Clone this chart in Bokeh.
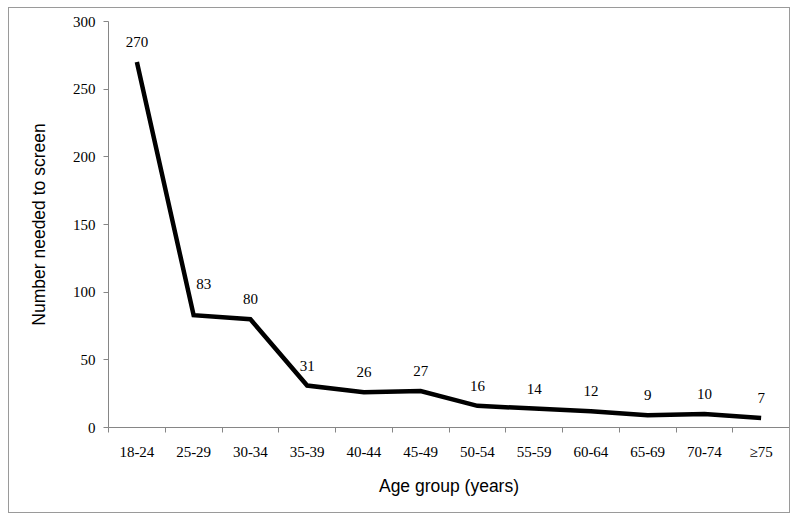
from bokeh.plotting import figure
from bokeh.models import Range1d, FixedTicker, ColumnDataSource
from bokeh.embed import file_html
from bokeh.resources import INLINE
from bokeh.core.properties import value

age_groups = ["18-24", "25-29", "30-34", "35-39", "40-44", "45-49",
              "50-54", "55-59", "60-64", "65-69", "70-74", "\u226575"]
nns = [270, 83, 80, 31, 26, 27, 16, 14, 12, 9, 10, 7]
y_ticks = [0, 50, 100, 150, 200, 250, 300]

xs = [i + 0.5 for i in range(len(age_groups))]
src = ColumnDataSource(dict(x=xs, y=nns, lab=[str(v) for v in nns]))

p = figure(width=782, height=506, output_backend="svg", toolbar_location=None,
           x_range=Range1d(0, len(age_groups)), y_range=Range1d(0, 300),
           min_border_left=99, min_border_right=2, min_border_top=13, min_border_bottom=87)
p.styles = {"border": "1px solid #9a9a9a", "margin-left": "8px", "margin-top": "7px"}
p.outline_line_color = None
p.grid.visible = False
p.background_fill_color = "white"
p.border_fill_color = "white"

p.line("x", "y", source=src, line_color="black", line_width=4.5, line_join="miter")

# data labels
main_idx = [i for i in range(len(nns)) if i != 1]
src_main = ColumnDataSource(dict(x=[xs[i] for i in main_idx], y=[nns[i] for i in main_idx],
                                 lab=[str(nns[i]) for i in main_idx]))
p.text("x", "y", text="lab", source=src_main, text_font=value("Liberation Serif"),
       text_font_size="15px", text_align="center", text_baseline="middle",
       y_offset=-20, text_color="black")
src_83 = ColumnDataSource(dict(x=[xs[1]], y=[nns[1]], lab=[str(nns[1])]))
p.text("x", "y", text="lab", source=src_83, text_font=value("Liberation Serif"),
       text_font_size="15px", text_align="center", text_baseline="middle",
       x_offset=10, y_offset=-31, text_color="black")

axis_col = "#868686"
# x axis
xa = p.xaxis[0]
xa.ticker = FixedTicker(ticks=xs, minor_ticks=list(range(len(age_groups) + 1)))
xa.major_label_overrides = {x: g for x, g in zip(xs, age_groups)}
xa.major_tick_out = 0
xa.major_tick_in = 0
xa.minor_tick_out = 5
xa.minor_tick_in = 0
xa.minor_tick_line_color = axis_col
xa.axis_line_color = axis_col
xa.major_label_text_font = "Liberation Serif"
xa.major_label_text_font_size = "15px"
xa.major_label_text_color = "black"
xa.major_label_standoff = 11
xa.axis_label = "Age group (years)"
xa.axis_label_text_font = "Liberation Sans"
xa.axis_label_text_font_size = "17.5px"
xa.axis_label_text_font_style = "normal"
xa.axis_label_text_color = "black"
xa.axis_label_standoff = 13

ya = p.yaxis[0]
ya.ticker = FixedTicker(ticks=y_ticks, minor_ticks=[])
ya.major_tick_out = 5
ya.major_tick_in = 0
ya.minor_tick_out = 0
ya.minor_tick_in = 0
ya.major_tick_line_color = axis_col
ya.axis_line_color = axis_col
ya.major_label_text_font = "Liberation Serif"
ya.major_label_text_font_size = "15px"
ya.major_label_text_color = "black"
ya.major_label_standoff = 8
ya.axis_label = "Number needed to screen"
ya.axis_label_text_font = "Liberation Sans"
ya.axis_label_text_font_size = "17.5px"
ya.axis_label_text_font_style = "normal"
ya.axis_label_text_color = "black"
ya.axis_label_standoff = 21

open("out.html", "w").write(file_html(p, INLINE))
